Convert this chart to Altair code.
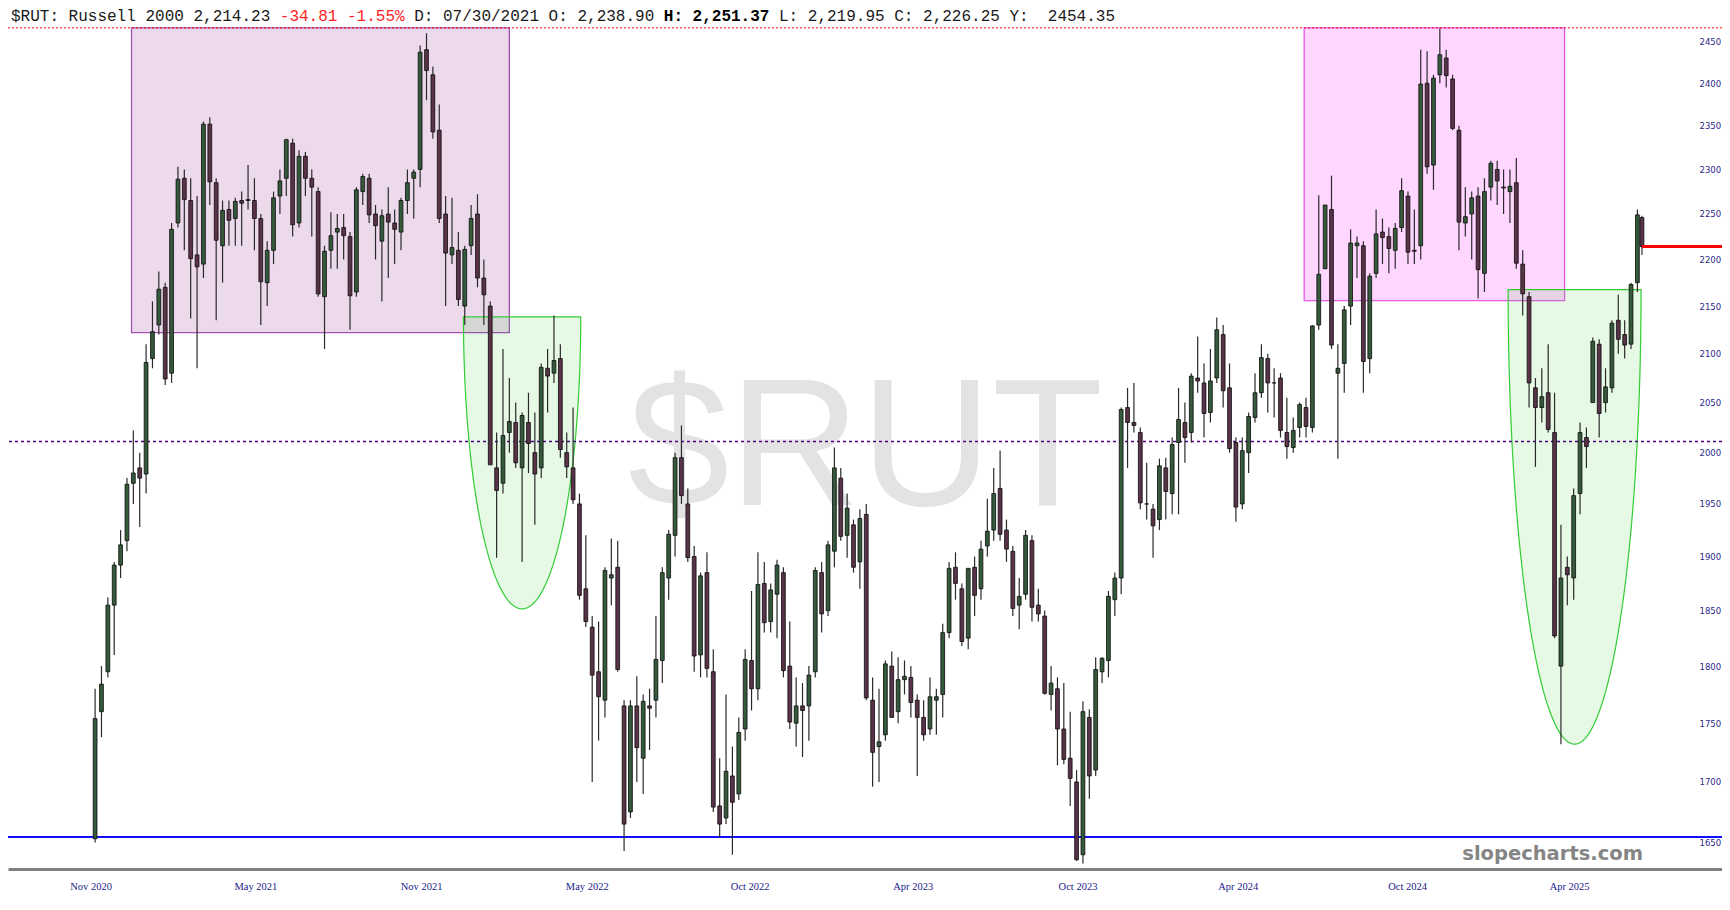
import altair as alt
import pandas as pd
import numpy as np

# ---------------- data (weekly OHLC) ----------------
opens = [1653,1760,1795,1855,1892,1915,1970,1985,1979,2095,2130,2170,2080,2240,2290,2265,2205,2195,2352,2285,
         2215,2255,2245,2265,2265,2265,2245,2175,2210,2270,2290,2330,2240,2315,2290,2275,2160,2210,2230,2235,
         2225,2165,2275,2290,2250,2220,2250,2240,2230,2265,2290,2300,2440,2410,2345,2250,2205,2210,2150,2215,
         2250,2180,2150,1985,1970,2020,2030,1985,2030,2000,1985,2085,2080,2095,2000,1985,1950,1870,1835,1795,
         1770,1880,1890,1765,1675,1765,1720,1765,1770,1805,1880,1920,1995,1950,1900,1810,1885,1795,1680,1670,
         1705,1690,1745,1805,1780,1875,1840,1865,1885,1800,1750,1765,1765,1795,1885,1850,1905,1975,1920,1930,
         1895,1940,1770,1730,1740,1800,1760,1788,1790,1770,1755,1745,1770,1775,1830,1890,1870,1825,1890,1870,
         1910,1925,1965,1925,1905,1855,1865,1915,1855,1845,1775,1780,1745,1720,1700,1640,1755,1710,1795,1805,
         1860,1880,2045,2030,2020,1950,1945,1935,1985,1960,2010,2030,2020,2075,2070,2040,2075,2120,2065,2010,
         1950,2000,2035,2060,2095,2070,2075,2020,2005,2025,2045,2025,2130,2190,2255,2080,2090,2150,2215,2215,
         2095,2185,2230,2225,2210,2235,2270,2210,2215,2400,2305,2410,2430,2405,2345,2240,2250,2270,2185,2280,
         2300,2280,2275,2285,2195,2160,2065,2045,2060,2020,1800,1890,1880,1960,2015,2050,2110,2050,2065,2135,
         2120,2110,2175,2246]
highs = [1780,1800,1862,1895,1925,1975,2022,2000,2110,2155,2187,2175,2240,2303,2300,2290,2270,2355,2360,2290,
         2265,2265,2268,2275,2305,2290,2250,2220,2275,2300,2335,2335,2322,2320,2300,2280,2215,2252,2250,2250,
         2230,2280,2295,2295,2260,2255,2280,2255,2268,2300,2300,2445,2460,2420,2375,2270,2268,2230,2215,2260,
         2272,2200,2155,2020,2105,2075,2050,2040,2060,2040,2090,2105,2140,2110,2020,2045,1960,1920,1845,1840,
         1890,1917,1915,1770,1770,1791,1775,1780,1845,1890,1925,2000,2027,1965,1910,1885,1904,1815,1720,1775,
         1730,1755,1815,1868,1904,1895,1875,1897,1890,1840,1790,1785,1800,1890,1895,1915,2005,1985,1960,1935,
         1945,1950,1790,1780,1805,1813,1808,1805,1800,1775,1770,1790,1780,1838,1895,1904,1875,1889,1900,1915,
         1955,1985,2002,1935,1910,1880,1925,1920,1870,1850,1800,1790,1785,1760,1710,1769,1762,1808,1808,1868,
         1885,2045,2065,2070,2025,1990,1950,1994,1995,2015,2065,2050,2080,2118,2090,2105,2138,2130,2090,2015,
         2015,2040,2080,2110,2100,2085,2080,2055,2035,2050,2055,2130,2271,2260,2293,2110,2150,2233,2225,2220,
         2185,2255,2245,2235,2240,2290,2275,2255,2440,2438,2410,2466,2440,2410,2350,2280,2275,2280,2290,2310,
         2310,2300,2300,2313,2210,2165,2075,2085,2110,2060,1930,1900,1965,2030,2025,2117,2115,2085,2135,2162,
         2135,2175,2255,2248]
lows = [1650,1738,1790,1810,1880,1905,1950,1928,1960,2085,2120,2068,2070,2235,2210,2137,2085,2180,2260,2135,
        2175,2215,2215,2215,2255,2210,2130,2150,2195,2250,2270,2225,2235,2270,2225,2160,2105,2190,2190,2200,
        2125,2160,2260,2240,2200,2155,2180,2195,2210,2250,2245,2280,2380,2335,2240,2150,2195,2150,2130,2205,
        2170,2130,1990,1899,1960,2000,1985,1895,1980,1930,1975,2040,2070,1995,1975,1950,1860,1835,1700,1735,
        1755,1855,1795,1643,1670,1700,1690,1727,1755,1785,1860,1900,1950,1895,1795,1790,1790,1675,1654,1665,
        1640,1685,1735,1761,1770,1830,1830,1825,1790,1745,1730,1721,1735,1790,1830,1845,1890,1915,1899,1885,
        1870,1770,1696,1700,1735,1755,1750,1775,1755,1705,1735,1740,1740,1755,1825,1860,1818,1815,1845,1860,
        1900,1915,1915,1895,1845,1833,1860,1840,1840,1775,1761,1714,1715,1680,1635,1633,1686,1705,1785,1790,
        1845,1865,1985,2020,1945,1935,1899,1925,1935,1940,1940,1990,2010,2060,2015,2030,2070,2045,2000,1933,
        1945,1980,2030,2055,2040,2035,2015,1994,2000,2015,2015,2020,2125,2190,2105,1994,2060,2130,2180,2060,
        2080,2180,2195,2185,2190,2230,2195,2195,2200,2295,2277,2400,2395,2345,2210,2225,2200,2158,2165,2265,
        2260,2250,2240,2190,2140,2045,1986,2030,2020,1825,1732,1855,1860,1940,1985,2050,2015,2040,2060,2100,
        2095,2105,2165,2205]
closes = [1754,1784,1855,1892,1911,1969,1980,1975,2091,2123,2168,2074,2233,2289,2266,2201,2192,2352,2286,2221,
          2254,2243,2264,2262,2266,2245,2176,2210,2268,2287,2334,2238,2315,2290,2280,2163,2209,2226,2234,2226,
          2161,2277,2292,2249,2237,2248,2241,2233,2265,2285,2297,2437,2415,2343,2245,2207,2213,2157,2211,2245,
          2180,2162,1988,1963,2017,2031,1990,2037,2009,1979,2086,2077,2093,2003,1986,1954,1864,1840,1792,1773,
          1887,1883,1797,1665,1765,1729,1769,1763,1806,1885,1921,1995,1958,1899,1809,1882,1798,1679,1665,1709,
          1683,1742,1806,1780,1874,1839,1869,1892,1796,1751,1765,1761,1792,1887,1847,1911,1985,1919,1946,1890,
          1936,1772,1725,1734,1802,1755,1788,1791,1768,1755,1740,1773,1773,1830,1889,1875,1822,1889,1864,1907,
          1924,1960,1921,1907,1852,1863,1920,1853,1847,1776,1785,1745,1719,1703,1636,1760,1705,1797,1807,1863,
          1880,2043,2030,2027,1951,1950,1929,1987,1962,2008,2033,2015,2077,2072,2039,2072,2125,2062,2004,1947,
          2002,2036,2060,2096,2070,2070,2022,2006,2022,2048,2026,2129,2184,2260,2109,2085,2146,2218,2218,2092,
          2182,2228,2224,2212,2234,2276,2208,2209,2399,2303,2406,2434,2409,2347,2241,2247,2268,2189,2275,2307,
          2287,2279,2281,2196,2163,2070,2045,2056,2023,1827,1880,1883,1958,2020,2006,2113,2039,2066,2132,2115,
          2109,2173,2249,2214.23]
week_dates = list(pd.date_range("2020-11-11", "2025-07-02", freq="7D").strftime("%Y-%m-%d")) + ["2025-07-07"]

tick_dates = [(2020, 11, 6), (2021, 5, 6), (2021, 11, 4), (2022, 5, 5), (2022, 10, 31),
              (2023, 4, 28), (2023, 10, 26), (2024, 4, 19), (2024, 10, 22), (2025, 4, 18)]
price_ticks = [1650, 1700, 1750, 1800, 1850, 1900, 1950, 2000, 2050, 2100, 2150, 2200,
               2250, 2300, 2350, 2400, 2450]

ath_level = 2466.49
mid_level = 2011
support_level = 1654.5
last_date = "2025-07-07"
last_price = 2214.23

box_x = ["2020-12-21", "2024-07-01"]
box_x2 = ["2022-02-09", "2025-04-13"]
box_lo = [2122, 2155.8]
box_hi = [2466.5, 2466.5]

cup_center = ["2022-02-23", "2025-04-24"]
cup_halfwidth_days = [64.4, 73.0]
cup_top = [2138.5, 2167.6]
cup_bottom = [1851.6, 1732.0]

# ---------------- frames ----------------
df = pd.DataFrame({"date": week_dates, "open": opens, "high": highs, "low": lows, "close": closes})
df["dir"] = np.where(df["close"] >= df["open"], "up", "down")

boxes = pd.DataFrame({"x": box_x, "x2": box_x2, "lo": box_lo, "hi": box_hi,
                      "fill": ["#800080", "#ff00ff"], "stroke": ["#a450b4", "#e85ae8"],
                      "op": [0.15, 0.16]})

cup_rows = []
tt = np.linspace(0, np.pi, 241)
for i in range(len(cup_center)):
    c = pd.Timestamp(cup_center[i])
    lt, lb = np.log(cup_top[i]), np.log(cup_bottom[i])
    for t in tt:
        d = c + pd.Timedelta(days=float(cup_halfwidth_days[i] * np.cos(t)))
        cup_rows.append({"id": i, "x": int(d.value // 10**6),
                         "lo": float(np.exp(lt - (lt - lb) * np.sin(t))), "hi": cup_top[i]})
cups = pd.DataFrame(cup_rows)

# ---------------- layout ----------------
PLOT_W = 1714          # page x 8 .. 1722
PLOT_H = 842           # page y 27 .. 869
px_per_day = 0.9158
t0 = pd.Timestamp("2020-11-06")   # first bar, page x 86
dom0 = t0 - pd.Timedelta(days=(86 - 8) / px_per_day)
dom1 = t0 + pd.Timedelta(days=(8 + PLOT_W - 86) / px_per_day)
xscale = alt.Scale(type="utc", domain=[int(dom0.value // 10**6), int(dom1.value // 10**6)], nice=False)
yscale = alt.Scale(type="log", domain=[1628.5, 2467.5], nice=False)

xaxis = alt.Axis(values=[alt.DateTime(year=y, month=m, date=d, utc=True) for (y, m, d) in tick_dates],
                 labelExpr="utcFormat(datum.value, '%b %Y')",
                 labelFont="Liberation Serif", labelFontSize=10.5,
                 labelColor="#1a1a8a", ticks=False, tickSize=0, domain=True, domainColor="#808080",
                 domainWidth=3, grid=False, labelPadding=12, title=None, labelFlush=False,
                 labelOverlap=False)
yaxis = alt.Axis(orient="right", values=price_ticks, format="d", offset=-23, ticks=False, tickSize=0,
                 domain=False, grid=False, labelPadding=0, labelFont="DejaVu Sans", labelFontSize=8.5,
                 labelColor="#2a2a8a", title=None, labelAlign="left", labelBaseline="middle",
                 labelFlush=False, labelOverlap=False)


def X(f):
    return alt.X(f"{f}:T", scale=xscale, axis=xaxis)


def Y(f):
    return alt.Y(f"{f}:Q", scale=yscale, axis=yaxis)


one = lambda s: pd.DataFrame({"t": [s]})

# ---------------- layers ----------------
watermark = alt.Chart(one("$RUT")).mark_text(
    font="Liberation Sans", fontSize=182, color="#e3e3e3", align="center", baseline="alphabetic"
).encode(x=alt.value(857.5), y=alt.value(478), text="t:N")

box_layer = alt.Chart(boxes).mark_rect(strokeWidth=1.3).encode(
    x=X("x"), x2="x2:T", y=Y("lo"), y2="hi:Q",
    fill=alt.Fill("fill:N", scale=None), stroke=alt.Stroke("stroke:N", scale=None),
    fillOpacity=alt.FillOpacity("op:Q", scale=None))

cup_layer = alt.Chart(cups).mark_area(fill="#00c000", fillOpacity=0.1, stroke="#33cc33",
                                      strokeWidth=1.2).encode(
    x=X("x"), y=Y("lo"), y2="hi:Q", detail="id:N")

ath_line = alt.Chart(pd.DataFrame({"y": [ath_level]})).mark_rule(
    color="#ff0000", strokeDash=[2, 2], strokeWidth=1).encode(y=Y("y"))
mid_line = alt.Chart(pd.DataFrame({"y": [mid_level]})).mark_rule(
    color="#4b0082", strokeDash=[3, 3], strokeWidth=1.6).encode(y=Y("y"))
sup_line = alt.Chart(pd.DataFrame({"y": [support_level]})).mark_rule(
    color="#1010ff", strokeWidth=2).encode(y=Y("y"))

wicks = alt.Chart(df).mark_rule(color="#2a2a2a", strokeWidth=1.2).encode(
    x=X("date"), y=Y("low"), y2="high:Q")
bodies = alt.Chart(df).mark_bar(size=3.8, stroke="#0a0a0a", strokeWidth=0.8).encode(
    x=X("date"), y=Y("open"), y2="close:Q",
    color=alt.Color("dir:N", scale=alt.Scale(domain=["up", "down"], range=["#355a3b", "#5a3349"]),
                    legend=None))

price_line = alt.Chart(pd.DataFrame({"x": [last_date], "x2": ["2025-12-31"], "y": [last_price]})).mark_rule(
    color="#ff0000", strokeWidth=3).encode(x=X("x"), x2="x2:T", y=Y("y"))

brand = alt.Chart(one("slopecharts.com")).mark_text(
    font="DejaVu Sans", fontWeight="bold", fontSize=19.5, color="#858585", align="right",
    baseline="alphabetic").encode(x=alt.value(1635), y=alt.value(833), text="t:N")

cw = 9.6
hx0 = 3
header_parts = [("$RUT: Russell 2000 2,214.23", 0, "#1a1a1a", "normal"),
                ("-34.81 -1.55%", 28, "#ff2424", "normal"),
                ("D: 07/30/2021 O: 2,238.90", 42, "#1a1a1a", "normal"),
                ("H: 2,251.37", 68, "#000000", "bold"),
                ("L: 2,219.95 C: 2,226.25 Y:", 80, "#1a1a1a", "normal"),
                ("2454.35", 108, "#1a1a1a", "normal")]
header_layers = []
for txt, pos, col, wt in header_parts:
    header_layers.append(
        alt.Chart(one(txt)).mark_text(font="Liberation Mono", fontSize=16, color=col, fontWeight=wt,
                                      align="left", baseline="alphabetic")
        .encode(x=alt.value(hx0 + pos * cw), y=alt.value(-6), text="t:N"))

chart = alt.layer(
    watermark, box_layer, cup_layer, ath_line, mid_line, sup_line, wicks, bodies, price_line, brand,
    *header_layers
).properties(
    width=PLOT_W, height=PLOT_H,
    autosize=alt.AutoSizeParams(type="none"),
    padding={"left": 0, "top": 19, "right": 0, "bottom": 26},
    background="white"
).configure_view(stroke=None)

chart.save("out.html", embed_options={"renderer": "svg", "actions": False})
